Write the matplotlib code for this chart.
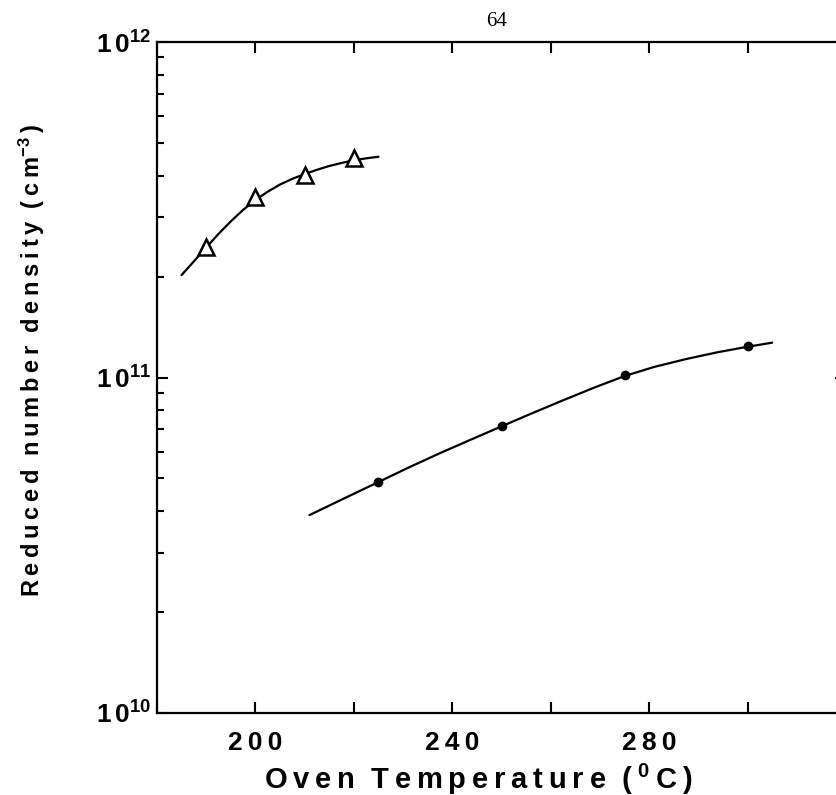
import math
import matplotlib
matplotlib.use("Agg")
import matplotlib.pyplot as plt
from matplotlib.ticker import FixedLocator, FuncFormatter, LogLocator, NullFormatter

plt.rcParams['font.family'] = ['Liberation Sans', 'DejaVu Sans']
plt.rcParams['font.weight'] = 'bold'
plt.rcParams['axes.labelweight'] = 'bold'
plt.rcParams['mathtext.fontset'] = 'custom'
plt.rcParams['mathtext.rm'] = 'Liberation Sans:bold'
plt.rcParams['mathtext.it'] = 'Liberation Sans:bold'
plt.rcParams['mathtext.bf'] = 'Liberation Sans:bold'
plt.rcParams['mathtext.default'] = 'rm'

# measured points
tri_T = [190, 200, 210, 220]
tri_n = [2.45e11, 3.45e11, 4.02e11, 4.51e11]
dot_T = [225, 250, 275, 300]
dot_n = [4.88e10, 7.17e10, 1.02e11, 1.24e11]

# fitted curves
fit1_T = [185, 187.5, 190, 192.5, 195, 197.5, 200, 202.5, 205, 207.5, 210,
          212.5, 215, 217.5, 220, 222.5, 225]
fit1_n = [2.02e11, 2.22e11, 2.44e11, 2.68e11, 2.92e11, 3.16e11, 3.38e11, 3.58e11,
          3.76e11, 3.91e11, 4.04e11, 4.16e11, 4.27e11, 4.36e11, 4.44e11, 4.50e11, 4.55e11]
fit2_T = [211, 218, 225, 231, 237.5, 244, 250, 256, 262.5, 269, 275, 281,
          287.5, 294, 300, 305]
fit2_n = [3.89e10, 4.36e10, 4.88e10, 5.38e10, 5.95e10, 6.55e10, 7.15e10, 7.8e10,
          8.55e10, 9.35e10, 1.01e11, 1.075e11, 1.135e11, 1.19e11, 1.235e11, 1.27e11]

x_ticks = [180, 200, 220, 240, 260, 280, 300, 320]
x_labeled = [200, 240, 280]
y_major = [1e10, 1e11, 1e12]

W, H = 836, 795
fig = plt.figure(figsize=(W / 100, H / 100), dpi=100)
left, right, top, bottom = 157, 846, 42, 713
ax = fig.add_axes([left / W, (H - bottom) / H, (right - left) / W, (bottom - top) / H])

ax.set_yscale('log')
ax.set_xlim(180, 320)
ax.set_ylim(1e10, 1e12)

ax.plot(fit1_T, fit1_n, color='black', lw=1.6, solid_capstyle='round', solid_joinstyle='round')
ax.plot(fit2_T, fit2_n, color='black', lw=1.6, solid_capstyle='round', solid_joinstyle='round')
ax.plot(tri_T, tri_n, linestyle='none', marker='^', markersize=11,
        markerfacecolor='white', markeredgecolor='black', markeredgewidth=1.8)
ax.plot(dot_T, dot_n, linestyle='none', marker='o', markersize=6,
        markerfacecolor='black', markeredgecolor='black')

ts = '\u2009'
ax.xaxis.set_major_locator(FixedLocator(x_ticks))
ax.xaxis.set_major_formatter(FuncFormatter(
    lambda v, p: ts.join(str(int(round(v)))) if int(round(v)) in x_labeled else ''))
ax.yaxis.set_major_locator(FixedLocator(y_major))
ax.yaxis.set_minor_locator(LogLocator(base=10, subs=range(2, 10)))
ax.yaxis.set_minor_formatter(NullFormatter())
ax.yaxis.set_major_formatter(FuncFormatter(
    lambda v, p: r'$\mathregular{1\,0^{%d}}$' % round(math.log10(v))))

ax.tick_params(axis='both', which='both', direction='in', top=True, right=True, width=1.5)
ax.tick_params(axis='x', which='major', length=8, pad=13, labelsize=19)
ax.tick_params(axis='y', which='major', length=8, pad=4, labelsize=19)
ax.tick_params(axis='y', which='minor', length=5)
for s in ax.spines.values():
    s.set_linewidth(1.6)

xlab = (ts.join('Oven') + '  ' + ts.join('Temperature') + '  ' + ts.join('(')
        + ts + '$\\mathregular{^{0}}$' + ts + ts.join('C)'))
ax.set_xlabel(xlab, fontsize=21, fontweight='bold')
ax.xaxis.set_label_coords(0.466, -0.072)
ylab = (ts.join('Reduced') + '  ' + ts.join('number') + '  ' + ts.join('density')
        + '  ' + ts.join('(cm') + '$\\mathregular{^{-3}}$' + ts + ')')
ax.set_ylabel(ylab, fontsize=17, fontweight='bold')
ax.yaxis.set_label_coords(-0.160, 0.526)

fig.text(497 / W, 1 - 22 / H, '64', fontsize=15, family='Liberation Serif',
         weight='normal', ha='center', va='center')

fig.savefig('out.png', dpi=100)
